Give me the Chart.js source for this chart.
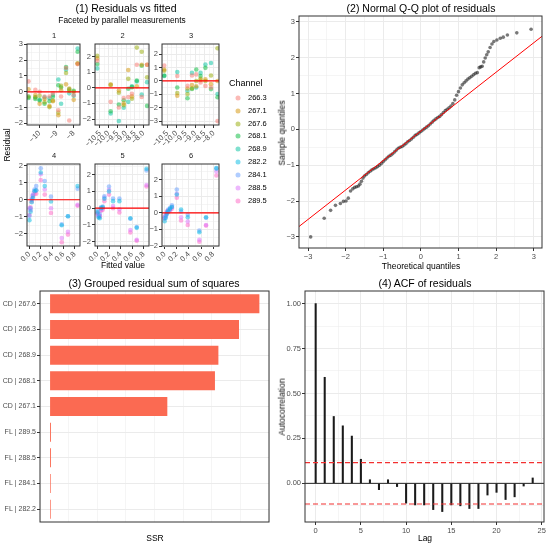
<!DOCTYPE html>
<html>
<head>
<meta charset="utf-8">
<script src="https://cdn.jsdelivr.net/npm/chart.js@4.4.0/dist/chart.umd.min.js"></script>
<style>
  body { margin: 0; background: #fff; }
  #page { position: relative; width: 550px; height: 548px; overflow: hidden;
          font-family: "Liberation Sans", Arial, Helvetica, sans-serif; color: #000; }
  #page canvas { position: absolute; }
  .txt { position: absolute; white-space: nowrap; line-height: 1; transform: translate(-50%, -50%); }
  .txt.left { transform: translate(0, -50%); }
  .txt.rot { transform: translate(-50%, -50%) rotate(-90deg); }
  .dot { position: absolute; width: 5px; height: 5px; border-radius: 50%; transform: translate(-50%, -50%); }
</style>
</head>
<body>
<div id="page"></div>
<script>
// ---- data ----

// (1) residuals vs fitted, one row per channel
const cdChannels = ['266.3', '267.1', '267.6', '268.1', '268.9'];
const flChannels = ['282.2', '284.1', '288.5', '289.5'];

const fit1 = [-10.65, -10.25, -10.0, -9.71, -9.42, -9.22, -8.9, -8.74, -8.45, -8.26, -8.0, -7.77];
const res1 = [
  [0.66, 0.12, 0.0, -0.3, -0.3, -0.1, -1.17, -0.3, 1.5, -1.82, -0.2, 1.75],
  [0.16, -0.2, -0.76, -0.45, -0.9, -0.6, -1.48, 0.1, 0.47, 0.2, -0.51, 1.77],
  [-0.3, -0.35, -0.25, -0.66, -0.97, -0.55, -1.32, 0.37, 1.19, 0.06, 0.0, 1.8],
  [-0.39, -0.45, -0.55, -0.76, -0.6, -0.31, 0.41, 0.27, 1.56, 0.15, 0.06, 2.53],
  [-0.31, -0.35, -0.5, -0.35, -0.41, -0.2, 0.78, -0.76, 1.4, -0.1, -0.25, 2.74]
];

const fit2 = [-10.65, -9.88, -9.41, -9.13, -8.87, -8.66, -8.38, -8.1, -7.79];
const res2 = [
  [1.73, -0.9, -1.26, -0.65, -0.59, -0.38, 1.47, -0.59, 1.47],
  [1.87, 0.2, -0.17, -1.0, 1.14, -0.55, 0.1, 1.47, 1.47],
  [2.04, 0.19, -0.32, -1.12, 0.57, -0.7, 2.57, 2.3, 0.67],
  [1.52, -1.5, -1.07, -0.8, -0.06, 0.04, 0.46, 1.41, -1.16],
  [1.24, -1.64, -2.13, -1.28, -0.9, 0.1, 0.4, -0.44, 0.36]
];

const fit3 = [-10.66, -9.96, -9.41, -9.17, -8.94, -8.71, -8.45, -8.15, -7.8];
const res3 = [
  [1.15, 0.37, -0.37, 0.41, 0.49, -0.12, -0.37, -0.49, -3.0],
  [0.85, -1.1, -0.56, -0.3, -0.4, 0.05, 0.12, -0.24, 0.0],
  [0.76, -0.9, -0.98, -0.54, 0.0, 0.17, 0.0, 0.41, 2.44],
  [0.41, -0.49, -1.29, -0.6, 0.85, 0.37, 0.98, -0.61, -1.22],
  [0.37, 0.66, -0.73, 0.6, -0.49, 0.6, 1.22, 1.34, -0.98]
];

const fitFL = [0.0, 0.02, 0.04, 0.06, 0.09, 0.12, 0.2, 0.27, 0.38, 0.57, 0.68, 0.85];
const res4 = [
  [-1.2, -0.7, -0.15, 0.1, 0.5, 0.55, 1.6, 0.8, -0.1, -1.5, -0.97, 0.8],
  [-0.95, -0.5, 0.0, 0.25, 0.6, 0.8, 1.85, 1.1, 0.18, -1.45, -0.97, 0.65],
  [-0.5, -0.6, 0.05, 0.3, 0.5, 0.55, 1.5, 0.6, -0.5, -2.25, -1.88, -0.3],
  [-0.9, -0.45, -0.1, 0.2, 0.35, 0.35, 1.15, 0.3, -0.78, -2.5, -2.05, -0.35]
];
const res5 = [
  [-0.25, -0.55, -0.6, 0.0, 0.05, 0.56, 1.0, 0.42, 0.42, -0.6, -1.17, 2.35],
  [-0.15, -0.45, -0.35, 0.05, 0.1, 0.71, 1.29, 0.58, 0.58, -0.63, -1.12, 2.25],
  [-0.35, -0.5, -0.45, -0.1, 0.0, 0.62, 1.1, 0.13, -0.06, -1.3, -1.88, 1.38],
  [-0.3, -0.4, -0.5, -0.15, -0.1, 0.42, 0.81, 0.0, -0.25, -1.44, -1.94, 1.29]
];
const res6 = [
  [-0.5, -0.3, -0.05, 0.1, 0.25, 0.35, 1.11, 0.2, -0.26, -1.17, -0.26, 2.7],
  [-0.3, -0.15, 0.05, 0.2, 0.3, 0.45, 1.41, 0.08, -0.12, -1.07, -0.3, 2.67],
  [-0.35, -0.2, 0.0, 0.15, 0.2, 0.35, 1.15, -0.26, -0.52, -1.62, -0.73, 2.5],
  [-0.25, -0.1, 0.1, 0.05, 0.15, 0.25, 0.91, -0.46, -0.73, -1.74, -0.77, 2.26]
];

// (2) normal Q-Q
const qqTheory = [
  -2.93, -2.57, -2.40, -2.27, -2.14, -2.06, -1.99, -1.93, -1.87, -1.81, -1.76, -1.71, -1.66, -1.62, -1.58, -1.54,
  -1.50, -1.45, -1.40, -1.35, -1.30, -1.25, -1.20, -1.15, -1.10, -1.05, -1.00, -0.95, -0.90, -0.85, -0.80, -0.75,
  -0.70, -0.65, -0.60, -0.55, -0.50, -0.45, -0.40, -0.35, -0.30, -0.25, -0.20, -0.15, -0.10, -0.05, 0.00, 0.05,
  0.10, 0.15, 0.20, 0.25, 0.30, 0.35, 0.40, 0.45, 0.50, 0.55, 0.60, 0.65, 0.70, 0.75, 0.80, 0.85,
  0.90, 0.95, 1.00, 1.05, 1.10, 1.15, 1.20, 1.25, 1.30, 1.35, 1.40, 1.45, 1.50,
  1.55, 1.59, 1.63, 1.67, 1.71, 1.75, 1.79, 1.84, 1.89, 1.94, 2.02, 2.11, 2.19, 2.30, 2.55, 2.93
];
const qqSample = [
  -3.0, -2.48, -2.26, -2.12, -2.07, -2.01, -2.0, -1.92, -1.72, -1.66, -1.62, -1.6, -1.58, -1.53, -1.45, -1.36,
  -1.30, -1.26, -1.21, -1.17, -1.13, -1.10, -1.07, -1.04, -1.00, -0.95, -0.90, -0.85, -0.80, -0.75, -0.72, -0.68,
  -0.63, -0.58, -0.53, -0.50, -0.48, -0.44, -0.40, -0.35, -0.31, -0.27, -0.22, -0.17, -0.14, -0.10, -0.06, -0.02,
  0.02, 0.06, 0.10, 0.15, 0.20, 0.25, 0.29, 0.33, 0.36, 0.41, 0.47, 0.52, 0.56, 0.60, 0.65, 0.72,
  0.82, 0.95, 1.05, 1.15, 1.24, 1.30, 1.35, 1.40, 1.44, 1.48, 1.52, 1.56, 1.58,
  1.72, 1.74, 1.76, 1.88, 1.99, 2.08, 2.16, 2.28, 2.38, 2.45, 2.49, 2.54, 2.57, 2.63, 2.69, 2.79
];
const qqLineX = [-3.3, 3.3];
const qqLineY = [-2.76, 2.66];

// (3) grouped SSR
const ssrGroups = ['CD | 267.6', 'CD | 266.3', 'CD | 268.9', 'CD | 268.1', 'CD | 267.1',
                   'FL | 289.5', 'FL | 288.5', 'FL | 284.1', 'FL | 282.2'];
const ssrValues = [0.914, 0.825, 0.735, 0.72, 0.512, 0.004, 0.004, 0.003, 0.003];

// (4) ACF
const acfLags = [0, 1, 2, 3, 4, 5, 6, 7, 8, 9, 10, 11, 12, 13, 14, 15, 16, 17, 18, 19, 20, 21, 22, 23, 24];
const acfValues = [1.0, 0.59, 0.372, 0.32, 0.263, 0.134, 0.02, -0.035, 0.02, -0.018, -0.11, -0.12, -0.12,
                   -0.146, -0.157, -0.12, -0.125, -0.14, -0.14, -0.065, -0.05, -0.09, -0.075, -0.015, 0.03];
const acfBound = 0.115;

// ---- styling ----
const chanColors = {
  '266.3': '248,118,109', '267.1': '211,146,0', '267.6': '147,170,0', '268.1': '0,186,56',
  '268.9': '0,193,159', '282.2': '0,185,227', '284.1': '97,156,255', '288.5': '219,114,251', '289.5': '255,97,195'
};

Chart.defaults.font.family = '"Liberation Sans", Arial, Helvetica, sans-serif';
Chart.defaults.font.size = 7.5;
Chart.defaults.color = '#4D4D4D';

const page = document.getElementById('page');

function addText(str, x, y, size, cls, color) {
  const d = document.createElement('div');
  d.className = 'txt' + (cls ? ' ' + cls : '');
  d.textContent = str;
  d.style.left = x + 'px';
  d.style.top = y + 'px';
  d.style.fontSize = size + 'px';
  if (color) d.style.color = color;
  page.appendChild(d);
}

function fmtNum(v, dec) {
  const s = Math.abs(v).toFixed(dec);
  return (v < -1e-9 ? '\u2212' : '') + s;
}

// linear axis with ggplot-like major/minor grid
function lin(min, max, step, major, dec, rot) {
  const maj = v => Math.abs(v / major - Math.round(v / major)) < 1e-6;
  return {
    type: 'linear', min, max, offset: false,
    ticks: {
      stepSize: step, includeBounds: false, autoSkip: false, maxTicksLimit: 500, padding: 1,
      minRotation: rot || 0, maxRotation: rot || 0,
      callback: v => maj(v) ? fmtNum(v, dec) : ''
    },
    grid: {
      color: '#EBEBEB', offset: false, drawTicks: true, tickLength: 3, tickWidth: 1,
      lineWidth: c => (c.tick && !maj(c.tick.value)) ? 0.5 : 1,
      tickColor: c => (c.tick && maj(c.tick.value)) ? '#333' : 'rgba(0,0,0,0)'
    },
    border: { display: false }
  };
}

const framePlugin = {
  id: 'frame',
  afterDraw(chart) {
    const a = chart.chartArea, ctx = chart.ctx;
    ctx.save();
    ctx.strokeStyle = '#333';
    ctx.lineWidth = 1;
    ctx.strokeRect(a.left, a.top, a.right - a.left, a.bottom - a.top);
    ctx.restore();
  }
};

// rect = [left, top, right, bottom] of the plot area; m = [l, t, r, b] margins
function makeChart(rect, m, type, data, xAxis, yAxis, extra) {
  const c = document.createElement('canvas');
  const w = rect[2] - rect[0] + m[0] + m[2], h = rect[3] - rect[1] + m[1] + m[3];
  c.width = w; c.height = h;
  c.style.left = (rect[0] - m[0]) + 'px';
  c.style.top = (rect[1] - m[1]) + 'px';
  c.style.width = w + 'px';
  c.style.height = h + 'px';
  page.appendChild(c);
  const zero = s => { s.paddingLeft = 0; s.paddingRight = 0; s.paddingTop = 0; s.paddingBottom = 0; };
  xAxis.afterFit = s => { s.height = m[3]; zero(s); };
  yAxis.afterFit = s => { s.width = m[0]; zero(s); };
  return new Chart(c, {
    type, data,
    options: Object.assign({
      responsive: false, animation: false, events: [],
      layout: { padding: { left: 0, top: m[1], right: m[2], bottom: 0 } },
      plugins: { legend: { display: false }, tooltip: { enabled: false } },
      scales: { x: xAxis, y: yAxis }
    }, extra || {}),
    plugins: [framePlugin]
  });
}

function facet(rect, fit, res, chans, xr, yr) {
  const datasets = [{
    data: [{ x: xr[0], y: 0 }, { x: xr[1], y: 0 }], showLine: true,
    borderColor: '#FF0000', borderWidth: 1.2, pointRadius: 0
  }];
  chans.forEach((ch, i) => datasets.push({
    data: fit.map((x, j) => ({ x, y: res[i][j] })),
    backgroundColor: 'rgba(' + chanColors[ch] + ',0.5)', borderWidth: 0, pointRadius: 2.3
  }));
  makeChart(rect, [16, 3, 3, 20], 'scatter', { datasets },
    lin(xr[0], xr[1], xr[2], xr[3], xr[4], 45),
    lin(yr[0], yr[1], 0.5, 1, 0));
}

// ---- (1) residuals vs fitted ----
facet([27, 43, 81, 125], fit1, res1, cdChannels, [-10.74, -7.63, 0.5, 1, 0], [-2.1, 3.02]);
facet([95, 43, 150, 125], fit2, res2, cdChannels, [-10.78, -7.68, 0.25, 0.5, 1], [-2.38, 2.8]);
facet([162, 43, 220, 125], fit3, res3, cdChannels, [-10.78, -7.72, 0.25, 0.5, 1], [-3.29, 2.76]);
facet([27, 163, 81, 246], fitFL, res4, flChannels, [-0.043, 0.893, 0.1, 0.2, 1], [-2.72, 2.1]);
facet([95, 163, 150, 246], fitFL, res5, flChannels, [-0.043, 0.893, 0.1, 0.2, 1], [-2.25, 2.63]);
facet([162, 163, 220, 246], fitFL, res6, flChannels, [-0.043, 0.893, 0.1, 0.2, 1], [-2.0, 2.95]);

addText('(1) Residuals vs fitted', 126, 8, 10.5);
addText('Faceted by parallel measurements', 122, 20, 8.3);
[['1', 54, 36], ['2', 122.5, 36], ['3', 191, 36], ['4', 54, 156], ['5', 122.5, 156], ['6', 191, 156]]
  .forEach(s => addText(s[0], s[1], s[2], 7.5, '', '#1A1A1A'));
addText('Residual', 7, 145, 8.5, 'rot');
addText('Fitted value', 123, 265, 8.5);

addText('Channel', 229, 83, 9, 'left');
cdChannels.concat(flChannels).forEach((ch, i) => {
  const y = 97.7 + i * 12.9;
  const d = document.createElement('div');
  d.className = 'dot';
  d.style.left = '238px';
  d.style.top = y + 'px';
  d.style.background = 'rgba(' + chanColors[ch] + ',0.5)';
  page.appendChild(d);
  addText(ch, 248, y, 7.5, 'left');
});

// ---- (2) normal Q-Q ----
makeChart([299, 15, 543, 248], [24, 3, 3, 14], 'scatter', {
  datasets: [
    { data: [{ x: qqLineX[0], y: qqLineY[0] }, { x: qqLineX[1], y: qqLineY[1] }], showLine: true,
      borderColor: '#FF0000', borderWidth: 1, pointRadius: 0 },
    { data: qqTheory.map((x, i) => ({ x, y: qqSample[i] })),
      backgroundColor: 'rgba(30,30,30,0.6)', borderWidth: 0, pointRadius: 1.8 }
  ]
}, lin(-3.24, 3.22, 0.5, 1, 0), lin(-3.31, 3.16, 0.5, 1, 0));

addText('(2) Normal Q-Q plot of residuals', 421, 8, 10.5);
addText('Sample quantiles', 282, 133, 8.5, 'rot');
addText('Theoretical quantiles', 421, 266, 8.5);

// ---- (3) grouped residual sum of squares ----
makeChart([40, 291, 269, 522], [40, 3, 3, 14], 'bar', {
  labels: ssrGroups,
  datasets: [{ data: ssrValues, backgroundColor: '#FB6A52', borderWidth: 0,
               barPercentage: 0.74, categoryPercentage: 1 }]
}, lin(-0.044, 0.956, 0.125, 0.25, 2), {
  type: 'category', offset: true,
  ticks: { autoSkip: false, padding: 1, font: { size: 7 } },
  grid: { color: '#EBEBEB', offset: false, drawTicks: true, tickLength: 3, tickColor: '#333', lineWidth: 1 },
  border: { display: false }
}, { indexAxis: 'y' });

addText('(3) Grouped residual sum of squares', 154, 283, 10.5);
addText('SSR', 155, 538, 8.5);

// ---- (4) ACF ----
const acfX = [-1.18, 25.25];
makeChart([305, 291, 544, 522], [28, 3, 3, 14], 'bar', {
  datasets: [
    { type: 'line', data: [{ x: acfX[0], y: acfBound }, { x: acfX[1], y: acfBound }],
      borderColor: '#F23030', borderWidth: 1.2, borderDash: [5, 3], pointRadius: 0 },
    { type: 'line', data: [{ x: acfX[0], y: -acfBound }, { x: acfX[1], y: -acfBound }],
      borderColor: '#F23030', borderWidth: 1.2, borderDash: [5, 3], pointRadius: 0 },
    { type: 'line', data: [{ x: acfX[0], y: 0 }, { x: acfX[1], y: 0 }],
      borderColor: '#222', borderWidth: 1, pointRadius: 0 },
    { type: 'bar', data: acfLags.map((x, i) => ({ x, y: acfValues[i] })),
      backgroundColor: '#1A1A1A', barThickness: 1.4 }
  ]
}, lin(acfX[0], acfX[1], 2.5, 5, 0), lin(-0.215, 1.07, 0.125, 0.25, 2));

addText('(4) ACF of residuals', 425, 283, 10.5);
addText('Autocorrelation', 282, 407, 8.5, 'rot');
addText('Lag', 425, 538, 8.5);
</script>
</body>
</html>
